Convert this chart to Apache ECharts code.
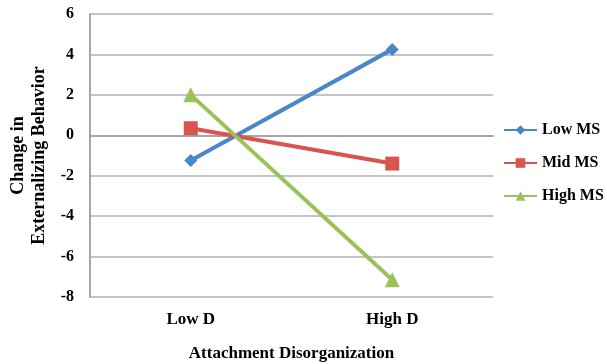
<!DOCTYPE html>
<html><head><meta charset="utf-8">
<script src="https://cdn.jsdelivr.net/npm/echarts@6/dist/echarts.min.js"></script>
<style>html,body{margin:0;padding:0;background:#fff}#c{width:607px;height:364px}</style>
</head><body><div id="c"></div>
<script>
var categories = ['Low D', 'High D'];
var lowMS = [-1.25, 4.25];
var midMS = [0.35, -1.4];
var highMS = [2.0, -7.15];
var yTicks = {min: -8, max: 6, interval: 2};

var font = 'Liberation Serif';
var chart = echarts.init(document.getElementById('c'));
function ser(name, data, color, symbol, size) {
  return {
    name: name, type: 'line', data: data, symbol: symbol, symbolSize: size,
    lineStyle: {width: 4, color: color},
    itemStyle: {color: color},
    z: 3
  };
}
chart.setOption({
  animation: false,
  backgroundColor: '#fff',
  grid: {left: 90, top: 14, width: 403, height: 283, outerBoundsMode: 'none', containLabel: false},
  xAxis: {
    type: 'category', data: categories, boundaryGap: true,
    name: 'Attachment Disorganization', nameLocation: 'middle', nameGap: 48,
    nameTextStyle: {fontFamily: font, fontWeight: 'bold', fontSize: 17, color: '#000'},
    axisLine: {lineStyle: {color: '#a6a6a6', width: 2}},
    axisTick: {show: false},
    axisLabel: {fontFamily: font, fontWeight: 'bold', fontSize: 17, color: '#000', margin: 14}
  },
  yAxis: {
    type: 'value', min: yTicks.min, max: yTicks.max, interval: yTicks.interval,
    name: 'Change in\nExternalizing Behavior', nameLocation: 'middle', nameGap: 39,
    nameTextStyle: {fontFamily: font, fontWeight: 'bold', fontSize: 18, color: '#000', lineHeight: 21},
    axisLine: {show: true, lineStyle: {color: '#a6a6a6', width: 2}},
    axisTick: {show: false},
    splitLine: {lineStyle: {color: '#c4c4c4', width: 2}},
    axisLabel: {fontFamily: font, fontWeight: 'bold', fontSize: 16, color: '#000', margin: 16}
  },
  legend: {
    orient: 'vertical', left: 503, top: 121, itemGap: 15, padding: 0,
    itemWidth: 33, itemHeight: 12,
    textStyle: {fontFamily: font, fontWeight: 'bold', fontSize: 16, color: '#000', lineHeight: 18},
    data: ['Low MS', 'Mid MS', 'High MS']
  },
  series: [
    ser('Low MS', lowMS, '#4a86c8', 'diamond', 13),
    ser('Mid MS', midMS, '#d9534f', 'rect', 14),
    ser('High MS', highMS, '#9bc25a', 'triangle', 15)
  ]
});
</script></body></html>
